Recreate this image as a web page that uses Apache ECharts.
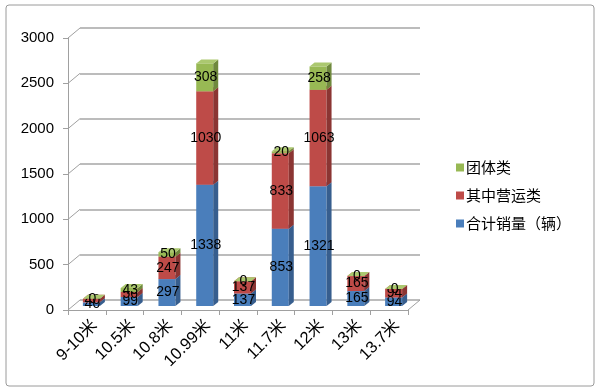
<!DOCTYPE html>
<html>
<head>
<meta charset="utf-8">
<script src="https://cdn.jsdelivr.net/npm/echarts@6/dist/echarts.min.js"></script>
<style>html,body{margin:0;padding:0;background:#fff}#c{width:600px;height:392px}</style>
</head>
<body>
<div id="c"></div>
<script>
const categories = ['9-10米','10.5米','10.8米','10.99米','11米','11.7米','12米','13米','13.7米'];
const totalSales = [40, 99, 297, 1338, 137, 853, 1321, 165, 94];
const operating = [40, 56, 247, 1030, 137, 833, 1063, 165, 94];
const groupSales = [0, 43, 50, 308, 0, 20, 258, 0, 0];
const yTicks = [0, 500, 1000, 1500, 2000, 2500, 3000];
const seriesNames = ['合计销量（辆）', '其中营运类', '团体类'];

const palettes = [
  {front: '#4A7EBB', side: '#375E8E', top: '#5E8FCB'},
  {front: '#BE4B48', side: '#8B3533', top: '#CD6562'},
  {front: '#98B954', side: '#6F893D', top: '#ABC86F'}
];
const seriesVals = [totalSales, operating, groupSales];

function buildData(k) {
  return categories.map((c, i) => {
    let base = 0;
    for (let j = 0; j < k; j++) base += seriesVals[j][i];
    return [i, base, base + seriesVals[k][i], seriesVals[k][i]];
  });
}

function barRender(k) {
  const pal = palettes[k];
  return function (params, api) {
    const ci = api.value(0), b = api.value(1), t = api.value(2), lab = api.value(3);
    const p0 = api.coord([ci, b]);
    const p1 = api.coord([ci, t]);
    const w = 17, dx = 5, dy = -4;
    const x0 = p0[0] - 4, x1 = x0 + w;
    const yb = p0[1] - 4, yt = p1[1] - 4;
    return {
      type: 'group',
      children: [
        {type: 'rect', shape: {x: x0, y: yt, width: w, height: yb - yt}, style: {fill: pal.front}},
        {type: 'polygon', shape: {points: [[x1, yb], [x1 + dx, yb + dy], [x1 + dx, yt + dy], [x1, yt]]}, style: {fill: pal.side}},
        {type: 'polygon', shape: {points: [[x0, yt], [x0 + dx, yt + dy], [x1 + dx, yt + dy], [x1, yt]]}, style: {fill: pal.top}},
        {type: 'text', z2: 100, style: {text: String(lab), x: x0 + w / 2 + 1, y: (yb + yt) / 2, align: 'center', verticalAlign: 'middle', fill: '#000', font: '14px "Liberation Sans", Arial, sans-serif'}}
      ]
    };
  };
}

const chart = echarts.init(document.getElementById('c'));
const series = [];
seriesNames.forEach((n, k) => {
  series.push({
    type: 'custom', name: n, xAxisIndex: 0, yAxisIndex: 0,
    itemStyle: {color: palettes[k].front},
    renderItem: barRender(k),
    encode: {x: 0, y: [1, 2]},
    data: buildData(k),
    z: 10 + k
  });
});
series.push({
  type: 'custom', xAxisIndex: 0, yAxisIndex: 0, silent: true, z: 2,
  encode: {x: 0, y: 1},
  data: yTicks.map(v => [0, v]),
  renderItem: function (params, api) {
    const y = api.coord([0, api.value(1)])[1];
    const cs = params.coordSys;
    const ch = [{type: 'line', shape: {x1: cs.x, y1: y, x2: cs.x + 12, y2: y - 10}, style: {stroke: '#a0a0a0', lineWidth: 1}}];
    if (api.value(1) === 0) {
      ch.push({type: 'line', shape: {x1: cs.x + cs.width, y1: y, x2: cs.x + cs.width + 12, y2: y - 10}, style: {stroke: '#a0a0a0', lineWidth: 1}});
    }
    return {type: 'group', children: ch};
  }
});

chart.setOption({
  animation: false,
  backgroundColor: '#fff',
  grid: [
    {left: 68, top: 38, width: 340, height: 272},
    {left: 80, top: 28, width: 340, height: 272}
  ],
  xAxis: [
    {type: 'category', gridIndex: 0, data: categories,
     axisLine: {show: true, lineStyle: {color: '#a0a0a0'}},
     axisTick: {show: true, interval: 0, length: 5, lineStyle: {color: '#a0a0a0'}},
     axisLabel: {interval: 0, rotate: 45, margin: 21, padding: [0, -11, 0, 0], fontSize: 16.5, color: '#000', fontFamily: '"Liberation Sans", "Noto Sans CJK SC", sans-serif'}},
    {type: 'category', gridIndex: 1, data: categories, show: false}
  ],
  yAxis: [
    {type: 'value', gridIndex: 0, min: 0, max: 3000, interval: 500,
     axisLine: {show: true, lineStyle: {color: '#a0a0a0'}},
     axisTick: {show: true, length: 5, lineStyle: {color: '#a0a0a0'}},
     splitLine: {show: false},
     axisLabel: {margin: 14, fontSize: 15, color: '#000', formatter: v => String(v), fontFamily: '"Liberation Sans", Arial, sans-serif'}},
    {type: 'value', gridIndex: 1, min: 0, max: 3000, interval: 500,
     axisLine: {show: false}, axisTick: {show: false}, axisLabel: {show: false},
     splitLine: {show: true, lineStyle: {color: '#a6a6a6', width: 1.6}}}
  ],
  legend: {
    data: ['团体类', '其中营运类', '合计销量（辆）'],
    orient: 'vertical', left: 451, top: 155,
    itemWidth: 8, itemHeight: 8, itemGap: 13, icon: 'rect',
    textStyle: {fontSize: 15, color: '#000', fontFamily: '"Noto Sans CJK SC", sans-serif', padding: [0, 0, 0, -3]}
  },
  graphic: [
    {type: 'rect', shape: {x: 6, y: 5, width: 588, height: 381, r: 3}, style: {fill: 'none', stroke: '#9a9a9a', lineWidth: 1}, z: -1}
  ],
  series: series
});
</script>
</body>
</html>
